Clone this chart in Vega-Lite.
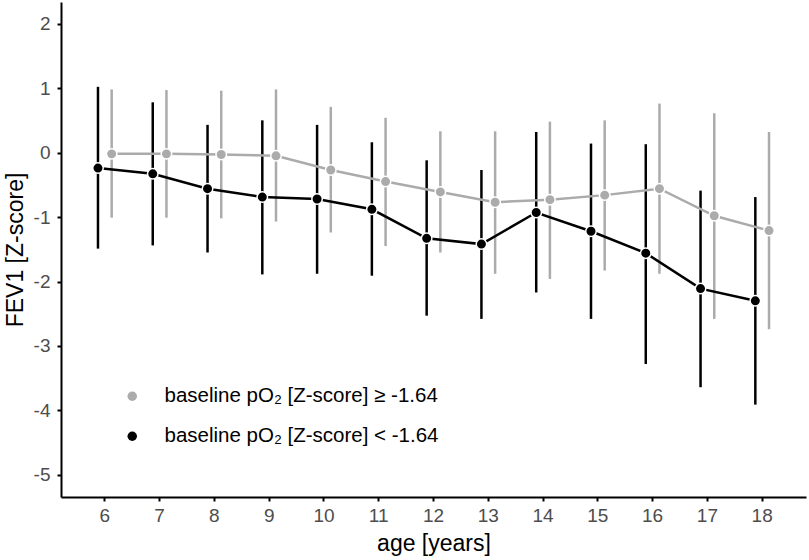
{
  "$schema": "https://vega.github.io/schema/vega-lite/v6.json",
  "width": 745,
  "height": 495,
  "autosize": {"type": "none"},
  "padding": {"left": 61, "top": 2, "right": 3, "bottom": 63},
  "background": "white",
  "config": {
    "font": "Liberation Sans",
    "view": {"stroke": null},
    "axis": {
      "grid": false,
      "domainColor": "black",
      "domainWidth": 2,
      "tickColor": "black",
      "tickWidth": 2,
      "tickSize": 4,
      "labelFont": "Liberation Sans",
      "labelColor": "#4d4d4d",
      "titleFont": "Liberation Sans",
      "titleFontSize": 23,
      "titleFontWeight": "normal",
      "titleColor": "black"
    },
    "legend": {
      "labelFont": "Liberation Sans"
    }
  },
  "data": {
    "values": [
      {"age": 6, "group": "baseline pO₂ [Z-score] ≥ -1.64", "mean": -0.02, "lo": -1.01, "hi": 0.98},
      {"age": 7, "group": "baseline pO₂ [Z-score] ≥ -1.64", "mean": -0.02, "lo": -1.01, "hi": 0.97},
      {"age": 8, "group": "baseline pO₂ [Z-score] ≥ -1.64", "mean": -0.03, "lo": -1.02, "hi": 0.96},
      {"age": 9, "group": "baseline pO₂ [Z-score] ≥ -1.64", "mean": -0.05, "lo": -1.07, "hi": 0.98},
      {"age": 10, "group": "baseline pO₂ [Z-score] ≥ -1.64", "mean": -0.27, "lo": -1.24, "hi": 0.71},
      {"age": 11, "group": "baseline pO₂ [Z-score] ≥ -1.64", "mean": -0.45, "lo": -1.45, "hi": 0.54},
      {"age": 12, "group": "baseline pO₂ [Z-score] ≥ -1.64", "mean": -0.61, "lo": -1.55, "hi": 0.33},
      {"age": 13, "group": "baseline pO₂ [Z-score] ≥ -1.64", "mean": -0.77, "lo": -1.88, "hi": 0.33},
      {"age": 14, "group": "baseline pO₂ [Z-score] ≥ -1.64", "mean": -0.73, "lo": -1.96, "hi": 0.48},
      {"age": 15, "group": "baseline pO₂ [Z-score] ≥ -1.64", "mean": -0.66, "lo": -1.83, "hi": 0.50},
      {"age": 16, "group": "baseline pO₂ [Z-score] ≥ -1.64", "mean": -0.56, "lo": -1.88, "hi": 0.76},
      {"age": 17, "group": "baseline pO₂ [Z-score] ≥ -1.64", "mean": -0.98, "lo": -2.58, "hi": 0.61},
      {"age": 18, "group": "baseline pO₂ [Z-score] ≥ -1.64", "mean": -1.21, "lo": -2.74, "hi": 0.32},
      {"age": 6, "group": "baseline pO₂ [Z-score] < -1.64", "mean": -0.24, "lo": -1.49, "hi": 1.02},
      {"age": 7, "group": "baseline pO₂ [Z-score] < -1.64", "mean": -0.33, "lo": -1.44, "hi": 0.78},
      {"age": 8, "group": "baseline pO₂ [Z-score] < -1.64", "mean": -0.56, "lo": -1.55, "hi": 0.43},
      {"age": 9, "group": "baseline pO₂ [Z-score] < -1.64", "mean": -0.69, "lo": -1.89, "hi": 0.50},
      {"age": 10, "group": "baseline pO₂ [Z-score] < -1.64", "mean": -0.72, "lo": -1.88, "hi": 0.43},
      {"age": 11, "group": "baseline pO₂ [Z-score] < -1.64", "mean": -0.88, "lo": -1.91, "hi": 0.16},
      {"age": 12, "group": "baseline pO₂ [Z-score] < -1.64", "mean": -1.33, "lo": -2.53, "hi": -0.12},
      {"age": 13, "group": "baseline pO₂ [Z-score] < -1.64", "mean": -1.42, "lo": -2.58, "hi": -0.27},
      {"age": 14, "group": "baseline pO₂ [Z-score] < -1.64", "mean": -0.93, "lo": -2.17, "hi": 0.32},
      {"age": 15, "group": "baseline pO₂ [Z-score] < -1.64", "mean": -1.22, "lo": -2.58, "hi": 0.14},
      {"age": 16, "group": "baseline pO₂ [Z-score] < -1.64", "mean": -1.56, "lo": -3.28, "hi": 0.13},
      {"age": 17, "group": "baseline pO₂ [Z-score] < -1.64", "mean": -2.11, "lo": -3.64, "hi": -0.59},
      {"age": 18, "group": "baseline pO₂ [Z-score] < -1.64", "mean": -2.30, "lo": -3.91, "hi": -0.69}
    ]
  },
  "encoding": {
    "x": {
      "field": "age",
      "type": "ordinal",
      "scale": {"type": "band", "paddingInner": 0, "paddingOuter": 0.3},
      "axis": {"title": "age [years]", "labelAngle": 0, "labelFontSize": 19, "labelPadding": 5, "titlePadding": 7, "titleAnchor": "middle"}
    },
    "xOffset": {
      "field": "group",
      "type": "nominal",
      "scale": {"domain": ["baseline pO₂ [Z-score] < -1.64", "baseline pO₂ [Z-score] ≥ -1.64"], "paddingInner": 0, "paddingOuter": 1.49}
    },
    "color": {
      "field": "group",
      "type": "nominal",
      "scale": {"domain": ["baseline pO₂ [Z-score] ≥ -1.64", "baseline pO₂ [Z-score] < -1.64"], "range": ["#ababab", "#000000"]},
      "legend": {
        "title": null,
        "orient": "none",
        "legendX": 61,
        "legendY": 384,
        "padding": 0,
        "symbolType": "circle",
        "symbolSize": 90,
        "symbolStrokeWidth": 0,
        "labelFontSize": 20.5,
        "labelLimit": 500,
        "labelColor": "black",
        "labelOffset": 22,
        "rowPadding": 19
      }
    }
  },
  "layer": [
    {
      "mark": {"type": "rule", "strokeWidth": 2.5},
      "encoding": {
        "y": {
          "field": "lo",
          "type": "quantitative",
          "scale": {"domain": [-5.343, 2.336], "nice": false, "zero": false},
          "axis": {"title": "FEV1 [Z-score]", "values": [-5, -4, -3, -2, -1, 0, 1, 2], "labelExpr": "'' + datum.value", "labelFontSize": 19, "labelPadding": 7, "titlePadding": 6}
        },
        "y2": {"field": "hi"}
      }
    },
    {
      "mark": {"type": "line", "strokeWidth": 2.5},
      "encoding": {
        "y": {"field": "mean", "type": "quantitative"}
      }
    },
    {
      "mark": {"type": "point", "filled": true, "size": 110, "opacity": 1, "stroke": "white", "strokeWidth": 1.5, "shape": "circle"},
      "encoding": {
        "y": {"field": "mean", "type": "quantitative"}
      }
    }
  ]
}
